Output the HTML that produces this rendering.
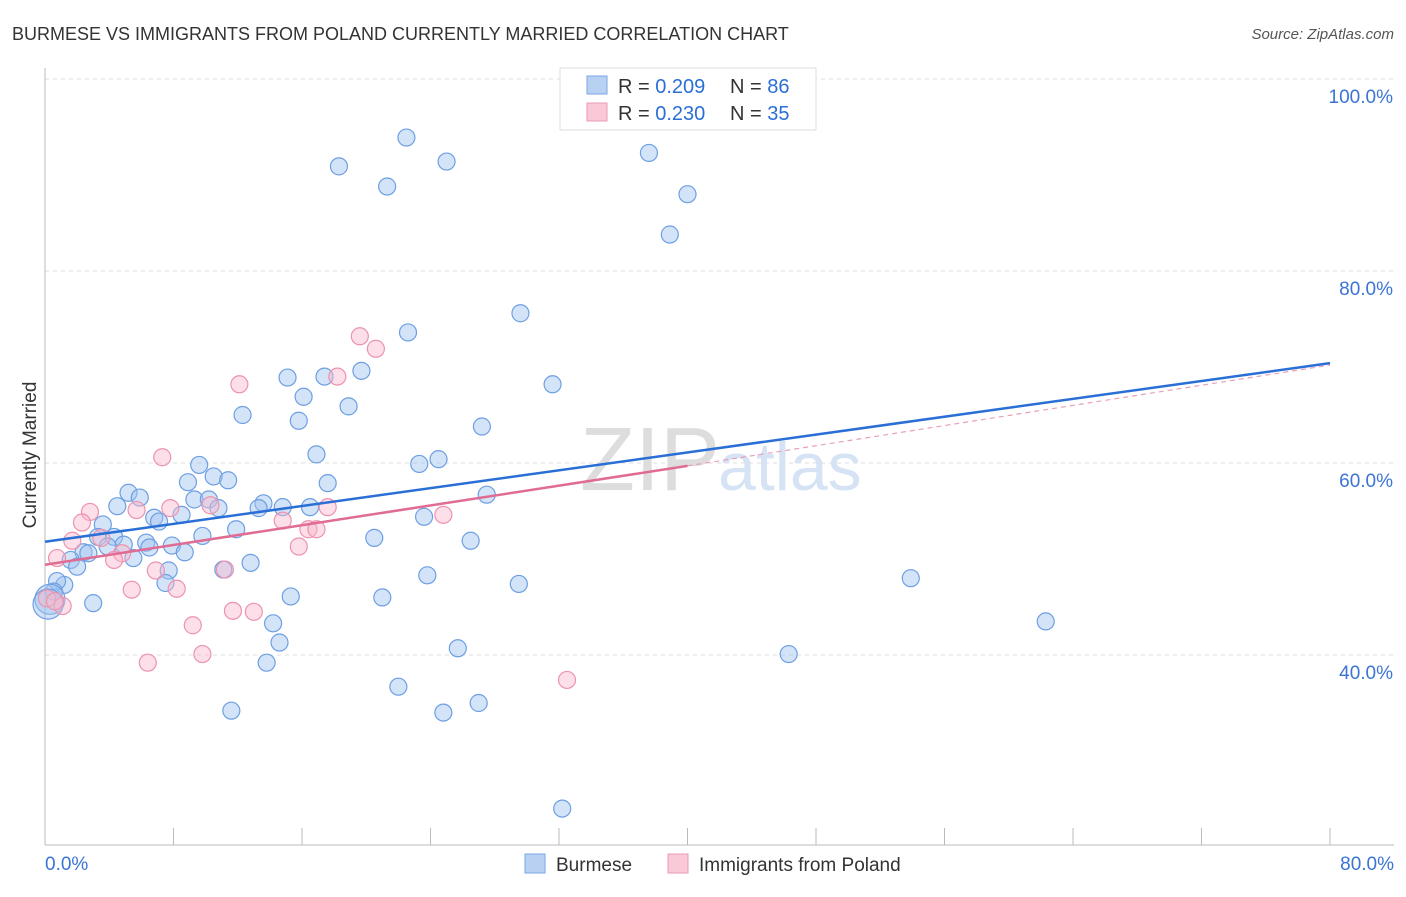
<!DOCTYPE html>
<html><head><meta charset="utf-8"><style>
body{margin:0;background:#fff;font-family:"Liberation Sans",sans-serif;}
svg text{font-family:"Liberation Sans",sans-serif;}
</style></head><body>
<svg id="chart" width="1406" height="892" xmlns="http://www.w3.org/2000/svg">
<text x="12" y="40" font-size="18" fill="#333">BURMESE VS IMMIGRANTS FROM POLAND CURRENTLY MARRIED CORRELATION CHART</text>
<text x="1394" y="39" font-size="15" fill="#555" text-anchor="end" font-style="italic">Source: ZipAtlas.com</text>
<g id="grid"></g>
<text x="720" y="490" font-size="90" fill="#ddd" text-anchor="end" font-family="Liberation Serif">ZIP</text>
<text x="718" y="490" font-size="68" fill="#d6e3f5">atlas</text>
<g id="axes"></g>
<g id="marks"></g>
<text x="36" y="455" font-size="19" fill="#333" text-anchor="middle" transform="rotate(-90 36 455)">Currently Married</text>
<text x="45" y="870" font-size="19" fill="#3b74d4">0.0%</text>
<text x="1394" y="870" font-size="19" fill="#3b74d4" text-anchor="end">80.0%</text>
<g>
<rect x="560" y="68" width="256" height="62" fill="#fff" stroke="#ddd"/>
<rect x="587" y="76" width="20" height="18" fill="#b8d1f3" stroke="#7aa6e4"/>
<rect x="587" y="103" width="20" height="18" fill="#f9c9d7" stroke="#ec9ab3"/>
<text x="618" y="93" font-size="20" fill="#333">R = <tspan fill="#2a6fd6">0.209</tspan><tspan x="730">N = </tspan><tspan fill="#2a6fd6">86</tspan></text>
<text x="618" y="120" font-size="20" fill="#333">R = <tspan fill="#2a6fd6">0.230</tspan><tspan x="730">N = </tspan><tspan fill="#2a6fd6">35</tspan></text>
</g>
<g>
<rect x="525" y="854" width="20" height="19" fill="#b8d1f3" stroke="#7aa6e4"/>
<text x="556" y="871" font-size="19" fill="#333">Burmese</text>
<rect x="668" y="854" width="20" height="19" fill="#f9c9d7" stroke="#ec9ab3"/>
<text x="699" y="871" font-size="19" fill="#333">Immigrants from Poland</text>
</g>
</svg>
<script>
const yTicks=[40,60,80,100];
const yTickLabels=["40.0%","60.0%","80.0%","100.0%"];
const xTicks=[0,8,16,24,32,40,48,56,64,72,80];
const burmeseX=[22.5,18.3,25.0,21.3,37.6,40.0,38.9,29.6,22.6,31.6,19.7,15.1,17.4,16.1,18.9,12.3,15.8,27.2,16.9,24.5,23.3,9.6,8.9,10.5,11.4,17.6,27.5,5.2,5.9,9.3,10.2,4.5,10.8,13.6,13.3,14.8,16.5,8.5,6.8,7.1,3.6,23.6,11.9,3.3,4.3,20.5,26.5,9.8,4.9,6.3,3.9,6.5,7.9,8.7,2.4,2.7,1.6,5.5,2.0,12.8,7.7,11.1,7.5,23.8,29.5,53.9,1.2,0.75,0.56,0.31,0.19,21.0,15.3,3.0,14.2,14.6,62.3,25.7,13.8,46.3,22.0,27.0,24.8,11.6,32.2];
const burmeseY=[93.9,90.9,91.4,88.8,92.3,88.0,83.8,75.6,73.6,68.2,69.6,68.9,69.0,66.9,65.9,65.0,64.4,63.8,60.9,60.4,59.9,59.8,58.0,58.6,58.2,57.9,56.7,56.9,56.4,56.2,56.2,55.5,55.3,55.8,55.3,55.4,55.4,54.6,54.3,53.9,53.6,54.4,53.1,52.3,52.3,52.2,51.9,52.4,51.5,51.7,51.3,51.2,51.4,50.7,50.7,50.6,49.9,50.1,49.2,49.6,48.8,48.9,47.5,48.3,47.4,48.0,47.3,47.7,46.6,45.8,45.3,46.0,46.1,45.4,43.3,41.3,43.5,40.7,39.2,40.1,36.7,35.0,34.0,34.2,24.0];
const polandX=[19.6,20.6,12.1,18.2,7.3,2.8,2.3,5.7,7.8,10.3,14.8,17.6,16.4,16.9,24.8,1.7,3.5,0.75,4.8,4.3,15.8,6.9,11.2,8.2,5.4,1.1,9.2,11.7,13.0,9.8,6.4,32.5,0.12,0.62];
const polandY=[73.2,71.9,68.2,69.0,60.6,54.9,53.8,55.1,55.3,55.6,54.0,55.4,53.1,53.1,54.6,51.9,52.2,50.1,50.6,49.9,51.3,48.8,48.9,46.9,46.8,45.1,43.1,44.6,44.5,40.1,39.2,37.4,45.9,45.6];
const blueFit=[[0,51.8],[80,70.4]];
const pinkFit=[[0,49.4],[40,59.7]];
const pinkDash=[[40,59.7],[80,70.2]];
const X=v=>45+v*(1285/80), Y=v=>79+(100-v)*9.6;
const NS="http://www.w3.org/2000/svg";
function mk(t,a,p){const e=document.createElementNS(NS,t);for(const k in a)e.setAttribute(k,a[k]);p.appendChild(e);return e;}
const grid=document.getElementById('grid'),axes=document.getElementById('axes'),marks=document.getElementById('marks');
yTicks.forEach((t,i)=>{
 const l=mk('line',{x1:45,x2:1394,y1:Y(t),y2:Y(t),stroke:'#ddd','stroke-dasharray':'4,4'},grid);
 
 
 const tx=mk('text',{x:1393,y:Y(t)+24,'font-size':19,fill:'#3b74d4','text-anchor':'end'},grid);
 tx.textContent=yTickLabels[i];
 
 
});
const ax=mk('line',{x1:45,x2:45,y1:68,y2:845,stroke:'#bbb'},axes);


const bx=mk('line',{x1:45,x2:1394,y1:845,y2:845,stroke:'#bbb'},axes);


xTicks.forEach(t=>{const l=mk('line',{x1:X(t),x2:X(t),y1:828,y2:845,stroke:'#bbb'},axes);
 
 });
burmeseX.forEach((v,i)=>{const r=(v<0.4)?15:8.5;
 const c=mk('circle',{cx:X(v),cy:Y(burmeseY[i]),r:r,fill:'rgba(160,195,240,0.45)',stroke:'#6d9fe3','stroke-width':1.2},marks);
 
 });
polandX.forEach((v,i)=>{
 const c=mk('circle',{cx:X(v),cy:Y(polandY[i]),r:8.5,fill:'rgba(248,185,205,0.45)',stroke:'#ec93ae','stroke-width':1.2},marks);
 
 });
const pd=mk('line',{x1:X(pinkDash[0][0]),y1:Y(pinkDash[0][1]),x2:X(pinkDash[1][0]),y2:Y(pinkDash[1][1]),stroke:'#e7a0b8','stroke-width':1.2,'stroke-dasharray':'5,4'},marks);


const bl=mk('line',{x1:X(blueFit[0][0]),y1:Y(blueFit[0][1]),x2:X(blueFit[1][0]),y2:Y(blueFit[1][1]),stroke:'#2a6fd6','stroke-width':2.5},marks);


const pl=mk('line',{x1:X(pinkFit[0][0]),y1:Y(pinkFit[0][1]),x2:X(pinkFit[1][0]),y2:Y(pinkFit[1][1]),stroke:'#e06b93','stroke-width':2.5},marks);


</script>
</body></html>
